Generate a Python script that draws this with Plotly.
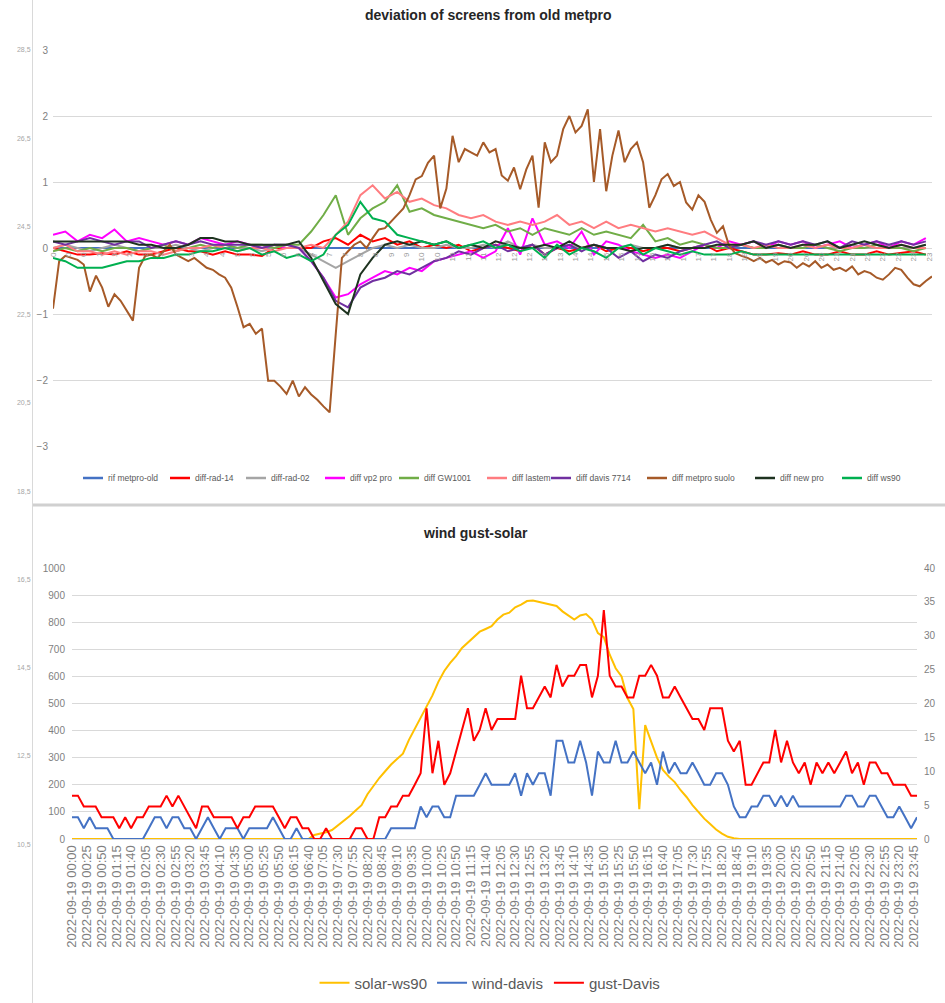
import pandas as pd
import plotly.graph_objects as go

W, H = 945, 1003

# =========================================================
# DATA - top chart (deviation from old metpro, degrees)
# =========================================================
minutes_10 = list(range(0, 1440, 10))
minutes_20 = list(range(0, 1440, 20))

top_names = ["rif metpro-old", "diff-rad-14", "diff-rad-02", "diff vp2 pro",
             "diff GW1001", "diff lastem", "diff davis 7714",
             "diff metpro suolo", "diff new pro", "diff ws90"]
top_colors = ["#4472C4", "#FF0000", "#A5A5A5", "#FF00FF", "#70AD47",
              "#FF7C80", "#7030A0", "#A65A28", "#1E3320", "#00B050"]

rif_metpro_old = [
    0, 0, 0, 0, 0, 0, 0, 0, 0, 0, 0, 0,
    0, 0, 0, 0, 0, 0, 0, 0, 0, 0, 0, 0,
    0, 0, 0, 0, 0, 0, 0, 0, 0, 0, 0, 0,
    0, 0, 0, 0, 0, 0, 0, 0, 0, 0, 0, 0,
    0, 0, 0, 0, 0, 0, 0, 0, 0, 0, 0, 0,
    0, 0, 0, 0, 0, 0, 0, 0, 0, 0, 0, 0,
]
diff_rad_14 = [
    0, -0.05, -0.1, -0.1, -0.08, -0.1, -0.05, -0.1, -0.1, -0.05, 0, -0.05,
    -0.05, -0.1, -0.05, -0.1, -0.1, -0.12, 0, 0, 0, 0, 0.1, 0.15,
    0.05, 0.2, 0.1, 0.15, 0.05, 0.1, 0, 0.05, 0, 0.05, -0.05, 0,
    0.05, 0, -0.05, 0.05, -0.1, 0, -0.05, 0, 0.05, -0.05, 0, 0,
    -0.05, 0, 0, -0.05, 0, 0.05, -0.05, 0, -0.05, -0.1, -0.1, -0.08,
    -0.1, -0.05, -0.1, -0.1, -0.05, -0.1, -0.1, -0.05, -0.1, -0.08, -0.05, -0.1,
]
diff_rad_02 = [
    0, 0.05, 0, -0.05, 0, 0.05, 0, -0.05, 0, 0, 0.05, 0,
    -0.05, 0, 0.05, 0, 0, -0.05, 0, 0.05, 0, -0.1, -0.2, -0.3,
    -0.2, -0.1, 0, 0.05, 0, 0.05, 0, 0, 0.05, 0, 0, 0.05,
    0, 0.1, 0, 0.05, 0, 0, 0.05, 0, 0.05, 0, 0, 0.05,
    0, 0, 0.05, 0, 0, 0.05, 0, 0, 0.05, 0, 0, 0.05,
    0, 0, 0.05, 0, 0, 0.05, 0, 0, 0.05, 0, 0, 0.05,
]
diff_vp2_pro = [
    0.2, 0.25, 0.1, 0.2, 0.15, 0.28, 0.1, 0.15, 0.1, 0.05, 0.1, 0.05,
    0.15, 0.1, 0.05, 0.1, 0.05, 0, 0.05, 0, 0, -0.2, -0.45, -0.75,
    -0.7, -0.55, -0.45, -0.35, -0.4, -0.3, -0.35, -0.2, -0.15, -0.1, -0.05, -0.15,
    -0.05, 0.3, -0.1, 0.45, 0.05, 0.1, 0, 0.25, -0.1, 0.1, 0.05, -0.05,
    -0.1, -0.15, -0.1, -0.15, -0.05, 0.05, 0, 0.1, 0.05, 0.1, 0, 0.1,
    0.05, 0.1, 0, 0.05, 0.1, 0, 0.05, 0.1, 0, 0.1, 0.05, 0.15,
]
diff_gw1001 = [
    -0.05, 0, -0.05, 0, -0.05, 0, 0, -0.05, 0, 0.05, -0.05, 0,
    0.05, 0, 0.05, 0, 0.05, 0.05, 0, 0.05, 0.05, 0.25, 0.5, 0.8,
    0.2, 0.45, 0.6, 0.7, 0.95, 0.55, 0.6, 0.5, 0.45, 0.4, 0.35, 0.3,
    0.35, 0.25, 0.3, 0.2, 0.3, 0.25, 0.2, 0.3, 0.2, 0.25, 0.2, 0.15,
    0.35, 0.1, 0.15, 0.05, 0.1, 0.05, 0, 0, 0.05, 0, 0, 0.05,
    0, 0, 0.05, 0, -0.05, 0, 0, 0.05, 0, 0, -0.05, 0,
]
diff_lastem = [
    0, 0.05, -0.05, -0.05, -0.1, -0.05, -0.1, -0.05, -0.05, -0.1, -0.05, 0,
    0, 0.05, 0, -0.05, 0, 0, -0.05, 0, 0, 0.05, 0, 0.2,
    0.4, 0.8, 0.95, 0.75, 0.85, 0.7, 0.75, 0.65, 0.6, 0.5, 0.45, 0.5,
    0.4, 0.35, 0.4, 0.35, 0.4, 0.5, 0.35, 0.4, 0.3, 0.4, 0.3, 0.35,
    0.3, 0.25, 0.3, 0.25, 0.2, 0.25, 0.15, 0.05, 0.05, 0, 0.05, 0,
    0, 0.05, 0, 0.05, 0, 0, 0.05, 0, 0, 0.05, 0, 0,
]
diff_davis_7714 = [
    0.1, 0.05, 0.1, 0.15, 0.1, 0.05, 0.1, 0.1, 0, 0.05, 0.1, 0.05,
    0.1, 0.05, 0.05, 0.05, 0.05, 0, 0.05, 0.05, 0, -0.2, -0.45, -0.8,
    -0.9, -0.6, -0.5, -0.45, -0.35, -0.4, -0.3, -0.2, -0.15, -0.05, -0.1, 0,
    0.05, -0.05, 0, 0.05, -0.1, 0, 0.05, -0.05, 0.05, 0, -0.15, -0.05,
    -0.2, -0.1, -0.15, -0.05, 0, 0.05, 0.1, 0, 0.05, 0.1, 0.05, 0.1,
    0.05, 0.1, 0.05, 0.1, 0, 0.1, 0.05, 0.1, 0.05, 0.1, 0.05, 0.1,
]
diff_new_pro = [
    0.1, 0.1, 0.1, 0.1, 0.1, 0.1, 0.1, 0.05, 0.05, 0, 0, 0.05,
    0.15, 0.15, 0.1, 0.1, 0.05, 0.05, 0.05, 0.05, 0.1, -0.15, -0.5, -0.85,
    -1.0, -0.4, -0.15, 0.05, 0.1, 0.05, 0.1, 0.05, 0.1, 0, 0.05, 0,
    0.1, 0.05, 0, 0, 0.05, 0, 0.1, 0, 0.05, 0, 0, -0.05,
    0, 0, 0.05, 0, 0, 0, 0.05, 0.05, 0.05, 0.1, 0, 0.05,
    0, 0.05, 0.05, 0.1, 0, 0.05, 0.1, 0.05, 0, 0.05, 0, 0.05,
]
diff_ws90 = [
    -0.15, -0.2, -0.3, -0.3, -0.3, -0.25, -0.2, -0.2, -0.15, -0.15, -0.1, -0.1,
    -0.05, -0.05, 0, -0.05, 0, -0.1, -0.05, -0.15, -0.1, -0.2, -0.1, 0.2,
    0.35, 0.7, 0.45, 0.4, 0.2, 0.15, 0.1, 0.05, 0.1, 0, 0.05, 0.1,
    0, 0.05, -0.05, 0, -0.15, 0.05, -0.1, 0, -0.05, -0.15, 0, 0.05,
    -0.1, 0, -0.05, -0.1, -0.05, -0.1, -0.1, -0.1, -0.05, -0.1, -0.1, -0.1,
    -0.1, -0.1, -0.1, -0.1, -0.1, -0.1, -0.1, -0.1, -0.1, -0.1, -0.1, -0.1,
]
# metpro suolo is read at 10 minute steps (it moves much more)
diff_metpro_suolo = [
    -0.92, -0.2, -0.12, -0.15, -0.18, -0.25, -0.66, -0.42, -0.6, -0.89, -0.7, -0.8,
    -0.95, -1.1, -0.3, -0.12, -0.1, -0.15, -0.05, 0.05, -0.1, -0.15, -0.2, -0.15,
    -0.23, -0.3, -0.33, -0.4, -0.45, -0.6, -0.89, -1.2, -1.15, -1.3, -1.22, -2.01,
    -2.01, -2.1, -2.21, -2.01, -2.25, -2.11, -2.22, -2.3, -2.4, -2.49, -1.3, -0.15,
    -0.05, 0.05, 0.1, 0, 0.15, 0.28, 0.3, 0.4, 0.5, 0.6, 0.8, 1.04,
    1.09, 1.29, 1.4, 0.6, 0.9, 1.7, 1.3, 1.5, 1.45, 1.4, 1.6, 1.45,
    1.5, 1.1, 1.02, 1.22, 0.89, 1.19, 1.4, 0.61, 1.6, 1.3, 1.4, 1.8,
    2.0, 1.75, 1.85, 2.1, 1.0, 1.8, 0.86, 1.4, 1.78, 1.3, 1.5, 1.6,
    1.3, 0.61, 0.8, 1.04, 1.12, 0.94, 1.0, 0.69, 0.58, 0.8, 0.7, 0.43,
    0.23, 0.33, 0.03, -0.08, -0.12, -0.15, -0.2, -0.15, -0.22, -0.18, -0.25, -0.2,
    -0.22, -0.3, -0.23, -0.28, -0.2, -0.3, -0.25, -0.33, -0.3, -0.35, -0.28, -0.4,
    -0.35, -0.38, -0.45, -0.48, -0.4, -0.3, -0.33, -0.45, -0.55, -0.58, -0.5, -0.43,
]

top_series = [rif_metpro_old, diff_rad_14, diff_rad_02, diff_vp2_pro,
              diff_gw1001, diff_lastem, diff_davis_7714, diff_metpro_suolo,
              diff_new_pro, diff_ws90]

top_ticks = list(range(0, 1440, 25))
top_tick_text = [str(m // 60) for m in top_ticks]

# =========================================================
# DATA - bottom chart (wind gust / solar), 10 minute steps
# =========================================================
times_10 = pd.date_range("2022-09-19 00:00", periods=144, freq="10min")

solar_ws90 = [
    0, 0, 0, 0, 0, 0, 0, 0, 0, 0, 0, 0,
    0, 0, 0, 0, 0, 0, 0, 0, 0, 0, 0, 0,
    0, 0, 0, 0, 0, 0, 0, 0, 0, 0, 0, 0,
    0, 0, 0, 0, 0, 15, 20, 25, 33, 50, 65, 85,
    105, 125, 165, 195, 225, 250, 275, 295, 315, 365, 405, 445,
    487, 530, 580, 620, 650, 675, 705, 725, 745, 765, 775, 785,
    810, 828, 835, 855, 865, 878, 880, 875, 870, 865, 860, 840,
    825, 810, 825, 830, 810, 760, 745, 680, 630, 600, 520, 480,
    110, 420, 360, 300, 255, 230, 210, 180, 155, 125, 100, 75,
    55, 35, 20, 8, 3, 0, 0, 0, 0, 0, 0, 0,
    0, 0, 0, 0, 0, 0, 0, 0, 0, 0, 0, 0,
    0, 0, 0, 0, 0, 0, 0, 0, 0, 0, 0, 0,
]
wind_davis = [
    3.2, 3.2, 1.6, 3.2, 1.6, 1.6, 1.6, 0, 0, 0, 0, 0,
    0, 1.6, 3.2, 3.2, 1.6, 3.2, 3.2, 1.6, 1.6, 0, 1.6, 3.2,
    1.6, 0, 1.6, 1.6, 1.6, 0, 1.6, 1.6, 1.6, 1.6, 3.2, 1.6,
    0, 0, 1.6, 0, 0, 0, 0, 0, 0, 0, 0, 0,
    0, 0, 0, 0, 0, 0, 1.6, 1.6, 1.6, 1.6, 1.6, 4.8,
    3.2, 4.8, 4.8, 3.2, 3.2, 6.4, 6.4, 6.4, 6.4, 8.0, 9.7, 8.0,
    8.0, 8.0, 8.0, 9.7, 6.4, 9.7, 8.0, 9.7, 9.7, 6.4, 14.5, 14.5,
    11.3, 11.3, 14.5, 11.3, 6.4, 12.9, 11.3, 11.3, 14.5, 11.3, 11.3, 12.9,
    11.3, 9.7, 11.3, 8.0, 12.9, 9.7, 11.3, 9.7, 9.7, 11.3, 9.7, 8.0,
    8.0, 9.7, 9.7, 8.0, 4.8, 3.2, 3.2, 4.8, 4.8, 6.4, 6.4, 4.8,
    6.4, 4.8, 6.4, 4.8, 4.8, 4.8, 4.8, 4.8, 4.8, 4.8, 4.8, 6.4,
    6.4, 4.8, 4.8, 6.4, 6.4, 4.8, 3.2, 3.2, 4.8, 3.2, 1.6, 3.2,
]
gust_davis = [
    6.4, 6.4, 4.8, 4.8, 4.8, 3.2, 3.2, 3.2, 1.6, 3.2, 1.6, 3.2,
    3.2, 4.8, 4.8, 4.8, 6.4, 4.8, 6.4, 4.8, 3.2, 1.6, 4.8, 4.8,
    3.2, 3.2, 3.2, 3.2, 1.6, 3.2, 3.2, 4.8, 4.8, 4.8, 4.8, 3.2,
    1.6, 3.2, 3.2, 1.6, 1.6, 0, 0, 1.6, 0, 0, 0, 0,
    1.6, 1.6, 0, 0, 3.2, 3.2, 4.8, 4.8, 6.4, 6.4, 8.0, 9.7,
    19.3, 9.7, 14.5, 8.0, 9.7, 12.9, 16.1, 19.3, 14.5, 16.1, 19.3, 16.1,
    17.7, 17.7, 17.7, 17.7, 24.1, 19.3, 19.3, 20.9, 22.5, 20.9, 25.7, 22.5,
    24.1, 24.1, 25.7, 25.7, 20.9, 24.1, 33.8, 24.1, 22.5, 22.5, 20.9, 20.9,
    24.1, 24.1, 25.7, 24.1, 20.9, 20.9, 22.5, 20.9, 19.3, 17.7, 17.7, 16.1,
    19.3, 19.3, 19.3, 14.5, 12.9, 14.5, 8.0, 8.0, 9.7, 11.3, 11.3, 16.1,
    11.3, 14.5, 11.3, 9.7, 11.3, 8.0, 11.3, 9.7, 11.3, 9.7, 11.3, 12.9,
    9.7, 11.3, 8.0, 11.3, 11.3, 9.7, 9.7, 8.0, 8.0, 8.0, 6.4, 6.4,
]

# axis of the chart sitting behind (only its labels show)
ghost_ticks = [10.5, 12.5, 14.5, 16.5, 18.5, 20.5, 22.5, 24.5, 26.5, 28.5]
ghost_labels = ["10,5", "12,5", "14,5", "16,5", "18,5",
                "20,5", "22,5", "24,5", "26,5", "28,5"]


# =========================================================
# FIGURE
# =========================================================
def px_x(p):
    return p / W


def px_y(p):
    return 1 - p / H


FONT = "Liberation Sans, Arial, sans-serif"
GRID = "#D9D9D9"
TICK = "#7F7F7F"

fig = go.Figure()

for name, vals, color in zip(top_names, top_series, top_colors):
    xs = minutes_10 if len(vals) == 144 else minutes_20
    fig.add_trace(go.Scatter(
        x=xs, y=vals, name=name, mode="lines",
        line=dict(color=color, width=2),
        xaxis="x", yaxis="y", showlegend=False
    ))

fig.add_trace(go.Scatter(
    x=times_10, y=solar_ws90, name="solar-ws90", mode="lines",
    line=dict(color="#FFC000", width=2),
    xaxis="x2", yaxis="y2", legend="legend2"
))
fig.add_trace(go.Scatter(
    x=times_10, y=wind_davis, name="wind-davis", mode="lines",
    line=dict(color="#4472C4", width=2),
    xaxis="x2", yaxis="y3", legend="legend2"
))
fig.add_trace(go.Scatter(
    x=times_10, y=gust_davis, name="gust-Davis", mode="lines",
    line=dict(color="#FF0000", width=2),
    xaxis="x2", yaxis="y3", legend="legend2"
))

# empty trace so the background axis is drawn
fig.add_trace(go.Scatter(x=[], y=[], xaxis="x", yaxis="y4",
                         showlegend=False, hoverinfo="skip"))

# top legend drawn by hand (Excel packs it tighter than plotly can)
legend_left_px = [83, 170, 246, 325, 399, 487, 551, 647, 755, 842]
legend_shapes = []
legend_texts = []
for name, color, left in zip(top_names, top_colors, legend_left_px):
    legend_shapes.append(dict(
        type="line", xref="paper", yref="paper",
        x0=px_x(left), x1=px_x(left + 20), y0=px_y(478), y1=px_y(478),
        line=dict(color=color, width=2.5)
    ))
    legend_texts.append(dict(
        text=name, x=px_x(left + 23), y=px_y(478), xref="paper", yref="paper",
        xanchor="left", yanchor="middle", showarrow=False,
        font=dict(size=8.5, color="#595959", family=FONT)
    ))

fig.update_layout(
    width=W, height=H,
    margin=dict(l=0, r=0, t=0, b=0, autoexpand=False),
    paper_bgcolor="white",
    plot_bgcolor="rgba(0,0,0,0)",
    font=dict(family=FONT, color="#595959"),
    xaxis=dict(
        domain=[px_x(53), px_x(932)], range=[0, 1430],
        anchor="free", position=px_y(250),
        tickvals=top_ticks, ticktext=top_tick_text, tickangle=-90,
        tickfont=dict(size=8, color="#9a9a9a"),
        showgrid=False, zeroline=False, showline=False, ticks="",
        automargin=False
    ),
    yaxis=dict(
        domain=[px_y(446), px_y(50)], range=[-3, 3], dtick=1,
        gridcolor=GRID, zeroline=False, showline=False, anchor="x",
        tickfont=dict(size=10, color=TICK), ticks="", ticklabelstandoff=4,
        automargin=False
    ),
    xaxis2=dict(
        domain=[px_x(72), px_x(917)], anchor="y2", type="date",
        range=["2022-09-19 00:00", "2022-09-19 23:50"],
        tick0="2022-09-19 00:00", dtick=25 * 60 * 1000,
        tickformat="%Y-%m-%d %H:%M", tickangle=-90,
        tickfont=dict(size=13, color=TICK),
        showgrid=False, zeroline=False, showline=True, linecolor=GRID,
        ticks="", automargin=False
    ),
    yaxis2=dict(
        domain=[px_y(839), px_y(568)], range=[0, 1000], dtick=100,
        gridcolor=GRID, zeroline=False, showline=False, anchor="x2",
        tickfont=dict(size=10, color=TICK), ticks="", ticklabelstandoff=6,
        automargin=False
    ),
    yaxis3=dict(
        overlaying="y2", side="right", anchor="x2",
        range=[0, 40], dtick=5, showgrid=False, zeroline=False,
        tickfont=dict(size=10, color=TICK), ticks="", ticklabelstandoff=6,
        automargin=False
    ),
    yaxis4=dict(
        domain=[0, 1], range=[6.9037, 29.628], anchor="free",
        position=px_x(32), tickvals=ghost_ticks, ticktext=ghost_labels,
        showgrid=False, zeroline=False, showline=True, linecolor=GRID,
        linewidth=1, tickfont=dict(size=7, color="#A6A6A6"), ticks="",
        automargin=False
    ),
    legend2=dict(
        orientation="h", x=px_x(490), xanchor="center",
        y=px_y(983), yanchor="middle", font=dict(size=15, color="#595959"),
        bgcolor="rgba(0,0,0,0)", itemwidth=30
    ),
    annotations=[
        dict(text="<b>deviation of screens from old metpro</b>",
             x=px_x(488), y=px_y(15), xref="paper", yref="paper",
             xanchor="center", yanchor="middle", showarrow=False,
             font=dict(size=14, color="#262626", family=FONT)),
        dict(text="<b>wind gust-solar</b>",
             x=px_x(475), y=px_y(533), xref="paper", yref="paper",
             xanchor="center", yanchor="middle", showarrow=False,
             font=dict(size=14, color="#262626", family=FONT)),
    ] + legend_texts,
    shapes=[
        dict(type="line", xref="paper", yref="paper",
             x0=px_x(33), x1=1, y0=px_y(505), y1=px_y(505),
             line=dict(color="#D0D0D0", width=3)),
    ] + legend_shapes,
)

# the page body has a default 8px margin; drop it so the chart sits at 0,0
fig.write_html("out.html", config={"displayModeBar": False},
               post_script="document.body.style.margin = '0';")
